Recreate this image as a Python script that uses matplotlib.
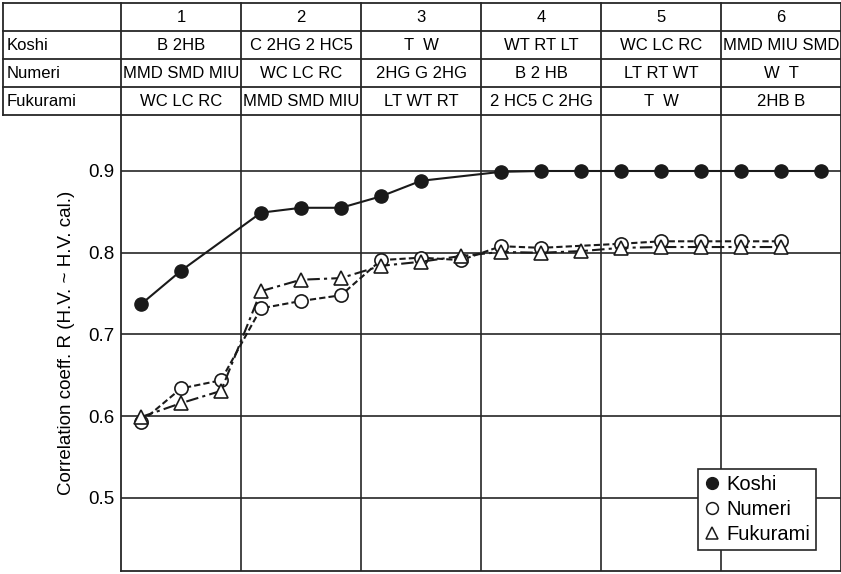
import matplotlib.pyplot as plt
from matplotlib.lines import Line2D

plt.rcParams['font.family'] = ['Liberation Sans', 'DejaVu Sans']

# Werte (x = Position im Raster, 3 Plaetze je Spalte)
koshi_x = [0, 1, 3, 4, 5, 6, 7, 9, 10, 11, 12, 13, 14, 15, 16, 17]
koshi_y = [0.737, 0.778, 0.849, 0.855, 0.855, 0.869, 0.888, 0.899,
           0.900, 0.900, 0.900, 0.900, 0.900, 0.900, 0.900, 0.900]

numeri_x = [0, 1, 2, 3, 4, 5, 6, 7, 8, 9, 10, 12, 13, 14, 15, 16]
numeri_y = [0.593, 0.634, 0.644, 0.732, 0.741, 0.748, 0.791, 0.794, 0.791,
            0.808, 0.806, 0.811, 0.814, 0.814, 0.814, 0.814]

fukurami_x = [0, 1, 2, 3, 4, 5, 6, 7, 8, 9, 10, 11, 12, 13, 14, 15, 16]
fukurami_y = [0.599, 0.616, 0.631, 0.753, 0.767, 0.769, 0.784, 0.789, 0.796,
              0.801, 0.800, 0.802, 0.806, 0.807, 0.807, 0.807, 0.807]

# Tabelle oben
col_heads = ['1', '2', '3', '4', '5', '6']
row_names = ['Koshi', 'Numeri', 'Fukurami']
koshi_cells = ['B 2HB', 'C 2HG 2 HC5', 'T  W', 'WT RT LT', 'WC LC RC', 'MMD MIU SMD']
numeri_cells = ['MMD SMD MIU', 'WC LC RC', '2HG G 2HG', 'B 2 HB', 'LT RT WT', 'W  T']
fukurami_cells = ['WC LC RC', 'MMD SMD MIU', 'LT WT RT', '2 HC5 C 2HG', 'T  W', '2HB B']

yticks = [0.5, 0.6, 0.7, 0.8, 0.9]
col_edges = [-0.5, 2.5, 5.5, 8.5, 11.5, 14.5, 17.5]

W, H = 841, 574
fig = plt.figure(figsize=(W / 100, H / 100), dpi=100)
ax = fig.add_axes([121 / W, 3 / H, 720 / W, 456 / H])
tab = fig.add_axes([3 / W, (H - 115) / H, 838 / W, 112 / H])

lc = '#262626'

# --- Tabelle ---
tab.set_xlim(-3.45, 17.5)
tab.set_ylim(4, 0)
tab.axis('off')
for r in range(5):
    tab.plot([-3.45, 17.5], [r, r], color=lc, lw=1.3, clip_on=False)
for e in [-3.45] + col_edges:
    tab.plot([e, e], [0, 4], color=lc, lw=1.3, clip_on=False)
for i, h in enumerate(col_heads):
    cx = 3 * i + 1
    tab.text(cx, 0.5, h, ha='center', va='center', fontsize=12)
    for r, cells in enumerate([koshi_cells, numeri_cells, fukurami_cells]):
        tab.text(cx, r + 1.5, cells[i], ha='center', va='center', fontsize=12)
for r, name in enumerate(row_names):
    tab.text(-3.35, r + 1.5, name, ha='left', va='center', fontsize=12)

# --- Diagramm ---
ax.plot(numeri_x, numeri_y, color='#1a1a1a', lw=1.5, dashes=(3, 1.5),
        marker='o', ms=9.5, mfc='white', mec='#1a1a1a', mew=1.2, zorder=3)
ax.plot(fukurami_x, fukurami_y, color='#1a1a1a', lw=1.5, dashes=(6, 2, 1.5, 2),
        marker='^', ms=10.5, mfc='white', mec='#1a1a1a', mew=1.2, zorder=4)
ax.plot(koshi_x, koshi_y, color='#1a1a1a', lw=1.5, marker='o', ms=9.5,
        mfc='#1a1a1a', mec='#1a1a1a', zorder=5)

ax.set_xlim(-0.5, 17.5)
ax.set_ylim(0.4107, 0.9685)
ax.set_xticks(col_edges[1:-1])
ax.set_xticklabels([])
ax.set_yticks(yticks)
ax.set_yticklabels([f'{v:.1f}' for v in yticks], fontsize=13.5)
ax.tick_params(length=0, pad=5)
ax.grid(True, color=lc, lw=1.2)
ax.set_axisbelow(True)
for s in ['left', 'bottom', 'right']:
    ax.spines[s].set_color(lc)
    ax.spines[s].set_linewidth(1.3)
ax.spines['top'].set_visible(False)

ax.set_ylabel('Correlation coeff. R (H.V. ~ H.V. cal.)', fontsize=13.5)
ax.yaxis.set_label_coords(-0.064, 0.5)

handles = [
    Line2D([], [], ls='none', marker='o', ms=8.5, mfc='#1a1a1a', mec='#1a1a1a'),
    Line2D([], [], ls='none', marker='o', ms=8.5, mfc='white', mec='#1a1a1a', mew=1.1),
    Line2D([], [], ls='none', marker='^', ms=8.5, mfc='white', mec='#1a1a1a', mew=1.1),
]
leg = ax.legend(handles, row_names, loc='upper right', bbox_to_anchor=(0.965, 0.224),
                borderaxespad=0, fontsize=14.5, handlelength=0.8, handletextpad=0.3,
                labelspacing=0.3, borderpad=0.3, fancybox=False, framealpha=1,
                edgecolor=lc)
leg.get_frame().set_linewidth(1.2)
leg.set_zorder(10)

fig.savefig('out.png', dpi=100)
